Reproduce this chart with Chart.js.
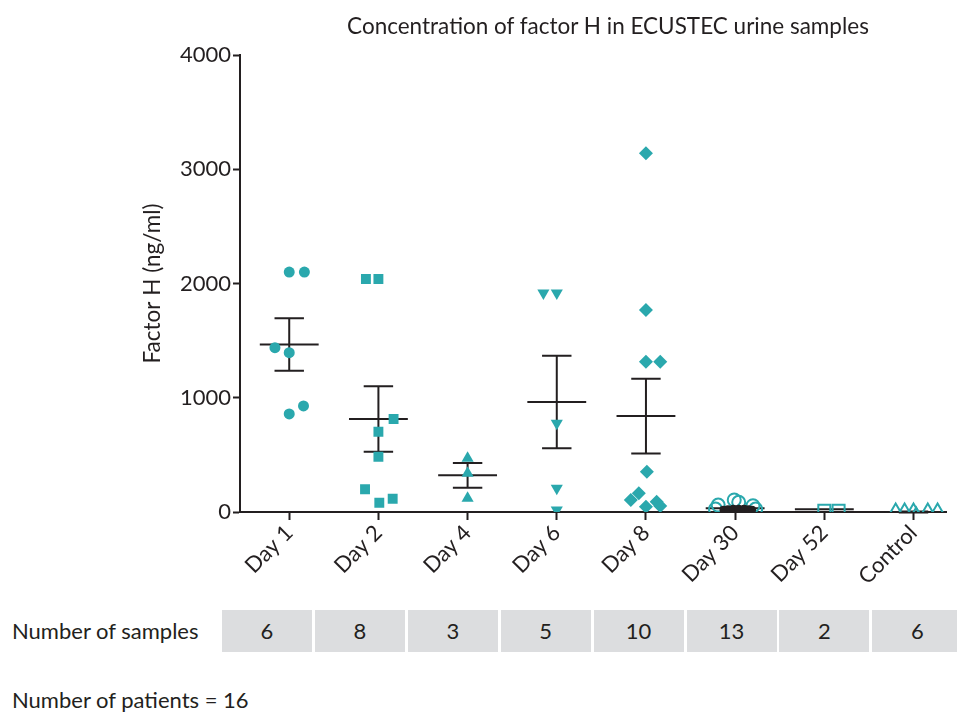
<!DOCTYPE html>
<html>
<head>
<meta charset="utf-8">
<script src="https://cdn.jsdelivr.net/npm/chart.js@4.4.1/dist/chart.umd.min.js"></script>
<style>
  body { margin: 0; background: #fff; font-family: Lato, sans-serif; color: #231f20; }
  #wrap { position: relative; width: 957px; height: 712px; overflow: hidden; }
  #factorChart { position: absolute; left: 0; top: 0; }
  .title { position: absolute; left: 259px; width: 698px; top: 13px; text-align: center; font-size: 22.5px; line-height: 26px; }
  .rowLabel { position: absolute; left: 12px; top: 618px; font-size: 22px; line-height: 26px; }
  .cell { position: absolute; top: 610px; width: 90px; height: 42px; line-height: 42px; background: #dcdddf; text-align: center; font-size: 22px; }
  .footer { position: absolute; left: 12px; top: 687px; font-size: 22px; line-height: 26px; }
</style>
</head>
<body>
<div id="wrap">
  <canvas id="factorChart" width="957" height="600"></canvas>
  <div class="title">Concentration of factor H in ECUSTEC urine samples</div>
  <div class="rowLabel">Number of samples</div>
  <div id="cells"></div>
  <div class="footer">Number of patients = 16</div>
</div>
<script>
// categories and values
const categories = ['Day 1', 'Day 2', 'Day 4', 'Day 6', 'Day 8', 'Day 30', 'Day 52', 'Control'];
const sampleCounts = [6, 8, 3, 5, 10, 13, 2, 6];

const day1Values = [2100, 2100, 1438, 1394, 928, 858];
const day1Jitter = [0, 0.17, -0.16, 0, 0.16, 0];
const day2Values = [2040, 2040, 814, 703, 484, 199, 81, 116];
const day2Jitter = [-0.14, 0, 0.17, 0, 0, -0.15, 0.01, 0.16];
const day4Values = [470, 339, 120];
const day4Jitter = [0, 0, 0];
const day6Values = [1917, 1917, 776, 207, 18];
const day6Jitter = [-0.15, 0, 0, 0, 0];
const day8Values = [3140, 1768, 1316, 1316, 353, 105, 164, 47, 90, 53];
const day8Jitter = [0, 0, 0, 0.16, 0.01, -0.17, -0.08, 0, 0.12, 0.16];
const day30Values = [26, 61, 105, 85, 55, 26];
const day30Jitter = [-0.22, -0.19, -0.01, 0.04, 0.2, 0.23];
const day30LowValues = [20, 25, 28, 28, 28, 25, 20];
const day30LowJitter = [-0.13, -0.08, -0.02, 0.04, 0.1, 0.15, 0.19];
const day52Values = [10, 10];
const day52Jitter = [0, 0.16];
const controlValues = [5, 5, 5, -30, 5, 5];
const controlJitter = [-0.2, -0.1, 0, 0.03, 0.16, 0.27];

const meanValues = [1466, 814, 321, 963, 840, 32, 23, 0];
const semValues = [229, 286, 108, 405, 327, 12, 0, 5];

const teal = '#2aa8ad';
const ink = '#231f20';

function points(idx, vals, jit) {
  return vals.map((v, i) => ({ x: idx + jit[i], y: v }));
}

// table under the chart
const cellBox = document.getElementById('cells');
sampleCounts.forEach((n, i) => {
  const d = document.createElement('div');
  d.className = 'cell';
  d.style.left = (222 + i * 92.9) + 'px';
  d.textContent = n;
  cellBox.appendChild(d);
});

// mean +/- SEM bars, drawn under the points
const errorBars = {
  id: 'errorBars',
  beforeDatasetsDraw(chart) {
    const { ctx, scales: { x, y } } = chart;
    ctx.save();
    ctx.strokeStyle = ink;
    ctx.lineWidth = 2;
    meanValues.forEach((m, i) => {
      const cx = x.getPixelForValue(i);
      const halfMean = x.getPixelForValue(i + 0.33) - cx;
      const halfCap = x.getPixelForValue(i + 0.165) - cx;
      const yM = y.getPixelForValue(m);
      const yT = y.getPixelForValue(m + semValues[i]);
      const yB = y.getPixelForValue(m - semValues[i]);
      ctx.beginPath();
      ctx.moveTo(cx - halfMean, yM); ctx.lineTo(cx + halfMean, yM);
      ctx.moveTo(cx, yT); ctx.lineTo(cx, yB);
      ctx.moveTo(cx - halfCap, yT); ctx.lineTo(cx + halfCap, yT);
      ctx.moveTo(cx - halfCap, yB); ctx.lineTo(cx + halfCap, yB);
      ctx.stroke();
    });
    ctx.restore();
  }
};

const filled = { backgroundColor: teal, borderColor: teal, borderWidth: 0 };
const hollow = { backgroundColor: 'rgba(0,0,0,0)', borderColor: teal, borderWidth: 2 };

const datasets = [
  { data: points(0, day1Values, day1Jitter), pointStyle: 'circle', pointRadius: 5.5, ...filled },
  { data: points(1, day2Values, day2Jitter), pointStyle: 'rect', pointRadius: 7, ...filled },
  { data: points(2, day4Values, day4Jitter), pointStyle: 'triangle', pointRadius: 7, ...filled },
  { data: points(3, day6Values, day6Jitter), pointStyle: 'triangle', rotation: 180, pointRadius: 7, ...filled },
  { data: points(4, day8Values, day8Jitter), pointStyle: 'rectRot', pointRadius: 7, ...filled },
  { data: points(5, day30LowValues, day30LowJitter), pointStyle: 'circle', pointRadius: 4, backgroundColor: ink, borderColor: ink, borderWidth: 0 },
  { data: points(5, day30Values, day30Jitter), pointStyle: 'circle', pointRadius: 6.5, ...hollow },
  { data: points(6, day52Values, day52Jitter), pointStyle: 'rect', pointRadius: 8.5, ...hollow },
  { data: points(7, controlValues, controlJitter), pointStyle: 'triangle', pointRadius: 8, ...hollow }
];

new Chart(document.getElementById('factorChart'), {
  type: 'scatter',
  data: { datasets: datasets },
  options: {
    responsive: false,
    animation: false,
    layout: { padding: { top: 55, right: 0, bottom: 0, left: 0 } },
    elements: { point: { hoverRadius: 7 } },
    scales: {
      x: {
        type: 'linear',
        min: -0.552,
        max: 7.37,
        afterBuildTicks: axis => { axis.ticks = categories.map((c, i) => ({ value: i })); },
        afterFit: axis => { axis.height = 88; },
        border: { display: true, color: ink, width: 2 },
        grid: { drawOnChartArea: false, drawTicks: true, tickLength: 8, tickColor: ink, tickWidth: 2 },
        ticks: {
          autoSkip: false,
          minRotation: 45,
          maxRotation: 45,
          padding: 0,
          color: ink,
          font: { family: 'Lato', size: 22 },
          callback: v => categories[v]
        }
      },
      y: {
        min: 0,
        max: 4000,
        afterFit: axis => { axis.width = 240; },
        border: { display: true, color: ink, width: 2 },
        grid: { drawOnChartArea: false, drawTicks: true, tickLength: 7, tickColor: ink, tickWidth: 2 },
        ticks: { stepSize: 1000, padding: 2, color: ink, font: { family: 'Lato', size: 22 }, callback: v => String(v) },
        title: {
          display: true,
          text: 'Factor H (ng/ml)',
          color: ink,
          font: { family: 'Lato', size: 22.5 },
          padding: { top: 139, bottom: 0 }
        }
      }
    },
    plugins: {
      legend: { display: false },
      tooltip: { enabled: false }
    }
  },
  plugins: [errorBars]
});
</script>
</body>
</html>
